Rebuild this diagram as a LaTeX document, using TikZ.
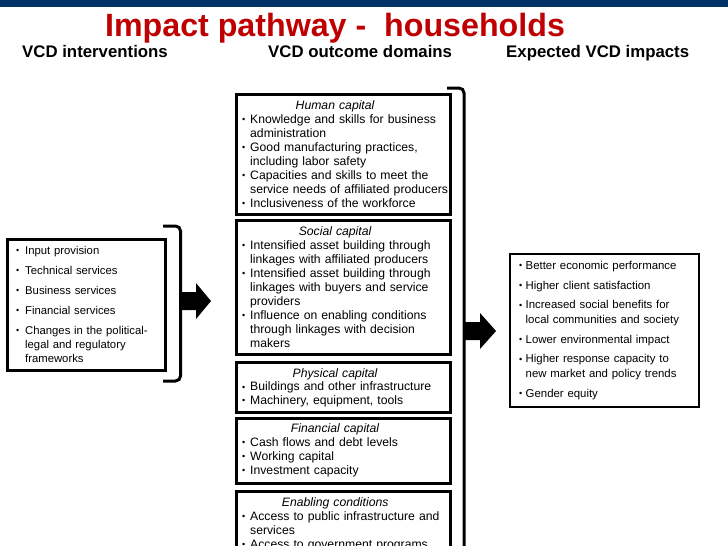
\documentclass[tikz,border=0pt]{standalone}
\usepackage{fontspec}
\setmainfont{Liberation Sans}
\definecolor{barnavy}{RGB}{0,51,102}
\definecolor{titlered}{RGB}{192,0,0}
\newlength\bind
\newcommand\bul{\raisebox{0.6pt}{\fontsize{9}{9}\selectfont\char"2022}}
\newcommand\bi[1]{\noindent\hangindent=\bind\hangafter=1\makebox[\bind][l]{\bul}#1\par}
\newcommand\ttl[1]{\noindent\makebox[186pt]{\rule{0pt}{10pt}\textit{#1}}\par}
\newcommand\st{\rule{0pt}{10pt}}
\begin{document}
\begin{tikzpicture}[x=1pt,y=-1pt,
  box/.style={draw=black, line width=3pt},
  bracketline/.style={draw=black, line width=3pt, rounded corners=5pt},
  blockarrow/.style={fill=black},
  hdr/.style={anchor=base west, inner sep=0, font=\fontsize{16.8}{18}\selectfont\bfseries},
  mtext/.style={anchor=north west, inner sep=0, text width=225pt, align=left,
    font=\fontsize{12.2}{14}\selectfont\setlength\bind{8pt}},
  ltext/.style={anchor=north west, inner sep=0, text width=150pt, align=left,
    font=\fontsize{11.3}{14}\selectfont\setlength\bind{9pt}\setlength\parskip{6pt}},
  rtext/.style={anchor=north west, inner sep=0, text width=185pt, align=left,
    font=\fontsize{11.4}{14.5}\selectfont\setlength\bind{6.5pt}\setlength\parskip{5.3pt}}
]
\useasboundingbox (0,0) rectangle (728,546);
\clip (0,0) rectangle (728,546);
\fill[white] (0,0) rectangle (728,546);
% top bar
\fill[barnavy] (0,0) rectangle (728,7);
% title and headers
\node[anchor=base, inner sep=0, text=titlered, font=\fontsize{32.2}{34}\selectfont\bfseries] (title) at (335,36) {Impact pathway -~ households};
\node[hdr] (h1) at (22,57) {VCD interventions};
\node[hdr] (h2) at (268,57) {VCD outcome domains};
\node[hdr] (h3) at (506,57) {Expected VCD impacts};

% left box
\node[box, anchor=north west, minimum width=158pt, minimum height=131pt, inner sep=0] (lbox) at (6,238) {};
\node[ltext] (ltx) at (16,244) {%
\bi{\st Input provision}
\bi{Technical services}
\bi{Business services}
\bi{Financial services}
\bi{Changes in the political-\newline legal and regulatory\newline frameworks}};

% left bracket
\coordinate (lb1) at (163,226);
\coordinate (lb2) at (180.5,226);
\coordinate (lb3) at (180.5,381);
\coordinate (lb4) at (163,381);
\draw[bracketline] (lb1) -- (lb2) -- (lb3) -- (lb4);
\fill[blockarrow] (181,292) -- (196,292) -- (196,283) -- (211,301) -- (196,319) -- (196,310) -- (181,310) -- cycle;

% middle boxes
\node[box, anchor=north west, minimum width=214pt, minimum height=120pt, inner sep=0] (hc) at (235,93) {};
\node[mtext] (hct) at (242,99) {%
\ttl{Human capital}
\bi{Knowledge and skills for business\newline administration}
\bi{Good manufacturing practices,\newline including labor safety}
\bi{Capacities and skills to meet the\newline service needs of affiliated producers}
\bi{Inclusiveness of the workforce}};

\node[box, anchor=north west, minimum width=214pt, minimum height=134pt, inner sep=0] (sc) at (235,219) {};
\node[mtext] (sct) at (242,225) {%
\ttl{Social capital}
\bi{Intensified asset building through\newline linkages with affiliated producers}
\bi{Intensified asset building through\newline linkages with buyers and service\newline providers}
\bi{Influence on enabling conditions\newline through linkages with decision\newline makers}};

\node[box, anchor=north west, minimum width=214pt, minimum height=50pt, inner sep=0] (pc) at (235,361) {};
\node[mtext, font=\fontsize{12.2}{13.6}\selectfont\setlength\bind{8pt}] (pct) at (242,367) {%
\ttl{Physical capital}
\bi{Buildings and other infrastructure}
\bi{Machinery, equipment, tools}};

\node[box, anchor=north west, minimum width=214pt, minimum height=65pt, inner sep=0] (fc) at (235,417) {};
\node[mtext] (fct) at (242,422) {%
\ttl{Financial capital}
\bi{Cash flows and debt levels}
\bi{Working capital}
\bi{Investment capacity}};

\node[box, anchor=north west, minimum width=214pt, minimum height=80pt, inner sep=0] (ec) at (235,490) {};
\node[mtext] (ect) at (242,496) {%
\ttl{Enabling conditions}
\bi{Access to public infrastructure and\newline services}
\bi{Access to government programs}};

% middle bracket
\coordinate (mb1) at (447,88);
\coordinate (mb2) at (464,88);
\coordinate (mb3) at (464,570);
\draw[bracketline] (mb1) -- (mb2) -- (mb3);
\fill[blockarrow] (464,322) -- (480,322) -- (480,313) -- (496,331) -- (480,349) -- (480,340) -- (464,340) -- cycle;

% right box
\node[draw=black, line width=2.7pt, anchor=north west, minimum width=189pt, minimum height=153pt, inner sep=0] (rbox) at (508.5,252.5) {};
\node[rtext] (rtx) at (519,259) {%
\bi{\st Better economic performance}
\bi{Higher client satisfaction}
\bi{Increased social benefits for\newline local communities and society}
\bi{Lower environmental impact}
\bi{Higher response capacity to\newline new market and policy trends}
\bi{Gender equity}};
\end{tikzpicture}
\end{document}
